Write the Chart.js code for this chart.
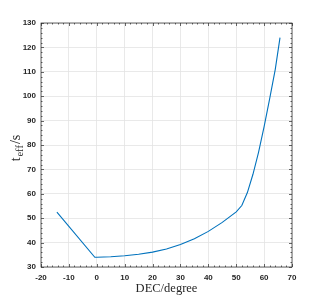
<!DOCTYPE html>
<html>
<head>
<meta charset="utf-8">
<script src="https://cdn.jsdelivr.net/npm/chart.js@4/dist/chart.umd.min.js"></script>
<style>
  body { margin: 0; background: #fff; }
  #wrap { width: 323px; height: 301px; }
</style>
</head>
<body>
<div id="wrap"><canvas id="effChart" width="323" height="301"></canvas></div>
<script>
// values
const decDeg = [-14.3, -0.7, 0, 5, 10, 15, 20, 25, 30, 35, 40, 45, 50, 52, 54, 56, 58, 60, 62, 64, 65.7]
const tEff   = [52.5, 34.0, 34.0, 34.2, 34.6, 35.2, 36.1, 37.4, 39.2, 41.6, 44.6, 48.3, 52.6, 55.2, 60.5, 68, 77, 87.5, 99, 111, 124]
const xTicks = [-20, -10, 0, 10, 20, 30, 40, 50, 60, 70]
const yTicks = [30, 40, 50, 60, 70, 80, 90, 100, 110, 120, 130]

const axisColor = '#262626'

// box, inward ticks (major + minor) and the two axis titles
const framePlugin = {
    id: 'frame',
    afterDraw(chart) {
        const ctx = chart.ctx
        const a = chart.chartArea
        const x = chart.scales.x
        const y = chart.scales.y
        ctx.save()
        ctx.strokeStyle = axisColor
        ctx.lineWidth = 0.7
        ctx.strokeRect(a.left, a.top, a.right - a.left, a.bottom - a.top)

        ctx.beginPath()
        for (let v = xTicks[0]; v <= xTicks[xTicks.length - 1]; v += 2) {
            let px = Math.round(x.getPixelForValue(v)) + 0.5
            let len = v % 10 === 0 ? 3 : 1.5
            ctx.moveTo(px, a.bottom); ctx.lineTo(px, a.bottom - len)
            ctx.moveTo(px, a.top); ctx.lineTo(px, a.top + len)
        }
        for (let v = yTicks[0]; v <= yTicks[yTicks.length - 1]; v += 2) {
            let py = Math.round(y.getPixelForValue(v)) + 0.5
            let len = v % 10 === 0 ? 3 : 1.5
            ctx.moveTo(a.left, py); ctx.lineTo(a.left + len, py)
            ctx.moveTo(a.right, py); ctx.lineTo(a.right - len, py)
        }
        ctx.stroke()

        // x title
        ctx.fillStyle = axisColor
        ctx.font = '12.5px "Liberation Serif", serif'
        ctx.textAlign = 'center'
        ctx.textBaseline = 'middle'
        ctx.fillText('DEC/degree', (a.left + a.right) / 2, 288.5)

        // y title with subscript
        ctx.translate(15.5, 148)
        ctx.rotate(-Math.PI / 2)
        ctx.textAlign = 'left'
        ctx.textBaseline = 'alphabetic'
        const big = '14px "Liberation Serif", serif'
        const small = '10.5px "Liberation Serif", serif'
        ctx.font = big
        let w1 = ctx.measureText('t').width + 0.8
        let w3 = ctx.measureText('/s').width
        ctx.font = small
        let w2 = ctx.measureText('eff').width + 1
        let start = -(w1 + w2 + w3) / 2
        ctx.font = big
        ctx.fillText('t', start, 4.5)
        ctx.font = small
        ctx.fillText('eff', start + w1, 7.5)
        ctx.font = big
        ctx.fillText('/s', start + w1 + w2, 4.5)
        ctx.restore()
    }
}

const ctx = document.getElementById('effChart')
const chart = new Chart(ctx, {
    type: 'scatter',
    data: {
        datasets: [{
            data: decDeg.map((d, i) => ({ x: d, y: tEff[i] })),
            showLine: true,
            borderColor: '#0072BD',
            borderWidth: 1.1,
            pointRadius: 0,
            tension: 0
        }]
    },
    options: {
        responsive: false,
        animation: false,
        layout: { padding: { left: 0, top: 23, right: 31, bottom: 0 } },
        plugins: { legend: { display: false }, tooltip: { enabled: false } },
        scales: {
            x: {
                type: 'linear',
                min: xTicks[0],
                max: xTicks[xTicks.length - 1],
                afterBuildTicks: s => { s.ticks = xTicks.map(v => ({ value: v })) },
                afterFit: s => { s.height = 34 },
                grid: { color: '#e3e3e3', lineWidth: 0.8, drawTicks: false },
                border: { display: false },
                ticks: {
                    padding: 6,
                    color: axisColor,
                    maxRotation: 0,
                    font: { family: '"Liberation Sans", Arial, sans-serif', size: 8, weight: 'bold' }
                }
            },
            y: {
                type: 'linear',
                min: yTicks[0],
                max: yTicks[yTicks.length - 1],
                afterBuildTicks: s => { s.ticks = yTicks.map(v => ({ value: v })) },
                afterFit: s => { s.width = 41 },
                grid: { color: '#e3e3e3', lineWidth: 0.8, drawTicks: false },
                border: { display: false },
                ticks: {
                    padding: 5,
                    color: axisColor,
                    font: { family: '"Liberation Sans", Arial, sans-serif', size: 8, weight: 'bold' }
                }
            }
        }
    },
    plugins: [framePlugin]
})
</script>
</body>
</html>
